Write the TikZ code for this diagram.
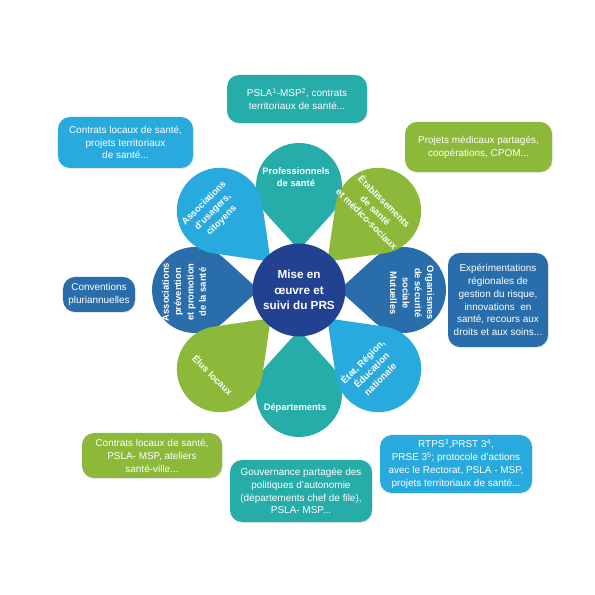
\documentclass[tikz,border=0pt]{standalone}
\usepackage{fontspec}
\setmainfont{Liberation Sans}
\usetikzlibrary{shadows}
\definecolor{prsteal}{RGB}{38,173,170}
\definecolor{prssky}{RGB}{41,170,222}
\definecolor{prsgreen}{RGB}{141,185,59}
\definecolor{prsblue}{RGB}{41,110,170}
\definecolor{prsnavy}{RGB}{35,65,145}
\begin{document}
\begin{tikzpicture}[x=0.03cm,y=0.03cm,
  box/.style={rounded corners=0.36cm, text=white, align=center, inner sep=2pt,
    font=\fontsize{8.5}{11}\selectfont,
    drop shadow={opacity=0.2,shadow xshift=0.6pt,shadow yshift=-0.8pt}},
  petaltext/.style={text=white, align=center, font=\bfseries\fontsize{8}{10.5}\selectfont}]
\useasboundingbox (0,0) rectangle (595,595);

% petals, straight ones
\foreach \ang/\col in {90/prsteal,0/prsblue,-90/prsteal,180/prsblue}
  \fill[\col, shift={(299,305)}, rotate=\ang]
    (40,0) -- (75.1,31.86) arc[start angle=132.2, end angle=-132.2, radius=43] -- cycle;
% petals, diagonal ones
\foreach \ang/\col in {45/prsgreen,-45/prssky,-135/prsgreen,135/prssky}
  \fill[\col, shift={(299,305)}, rotate=\ang]
    (40,0) -- (86.3,34.5) arc[start angle=126.7, end angle=-126.7, radius=43] -- cycle;

% centre
\node[circle, fill=prsnavy, minimum size=2.7cm, text=white, align=center,
  font=\bfseries\fontsize{10}{13.5}\selectfont] (prs) at (299,305) {Mise en\\œuvre et\\suivi du PRS};

% petal labels
\node[petaltext] (pro) at (296,418) {Professionnels\\de santé};
\node[petaltext, rotate=-45] (etab) at (376,385) {Établissements\\de santé\\et médico-sociaux};
\node[petaltext, rotate=-90] (orga) at (412,302) {Organismes\\de sécurité\\sociale\\Mutuelles};
\node[petaltext, rotate=45] (etat) at (371,225) {État, Région,\\Éducation\\nationale};
\node[petaltext] (dep) at (295,187) {Départements};
\node[petaltext, rotate=-45] (elus) at (213,220) {Élus locaux};
\node[petaltext, rotate=90] (asso) at (184,303) {Associations\\prévention\\et promotion\\de la santé};
\node[petaltext, rotate=45] (usag) at (213,383) {Associations\\d’usagers,\\citoyens};

% outer boxes
\node[box, fill=prsteal, minimum width=4.2cm, minimum height=1.44cm] (psla) at (297,496)
  {PSLA\textsuperscript{1}-MSP\textsuperscript{2}, contrats\\territoriaux de santé...};
\node[box, fill=prssky, minimum width=4.05cm, minimum height=1.53cm] (cls) at (125.5,452.5)
  {Contrats locaux de santé,\\projets territoriaux\\de santé...};
\node[box, fill=prsgreen, minimum width=4.41cm, minimum height=1.5cm] (pmp) at (478.5,448)
  {Projets médicaux partagés,\\coopérations, CPOM...};
\node[box, fill=prsblue, minimum width=2.16cm, minimum height=1.05cm] (conv) at (99,300.5)
  {Conventions\\pluriannuelles};
\node[box, fill=prsblue, minimum width=3cm, minimum height=2.82cm] (expe) at (498,295)
  {Expérimentations\\régionales de\\gestion du risque,\\innovations~ en\\santé, recours aux\\droits et aux soins...};
\node[box, fill=prsgreen, minimum width=4.2cm, minimum height=1.35cm] (atel) at (152,139.5)
  {Contrats locaux de santé,\\PSLA- MSP, ateliers\\santé-ville...};
\node[box, fill=prsteal, minimum width=4.26cm, minimum height=1.86cm] (gouv) at (301,104)
  {Gouvernance partagée des\\politiques d’autonomie\\(départements chef de file),\\PSLA- MSP...};
\node[box, fill=prssky, minimum width=4.56cm, minimum height=1.74cm] (rtps) at (456,131)
  {RTPS\textsuperscript{3},PRST 3\textsuperscript{4},\\PRSE 3\textsuperscript{5}; protocole d’actions\\avec le Rectorat, PSLA - MSP,\\projets territoriaux de santé...};
\end{tikzpicture}
\end{document}
